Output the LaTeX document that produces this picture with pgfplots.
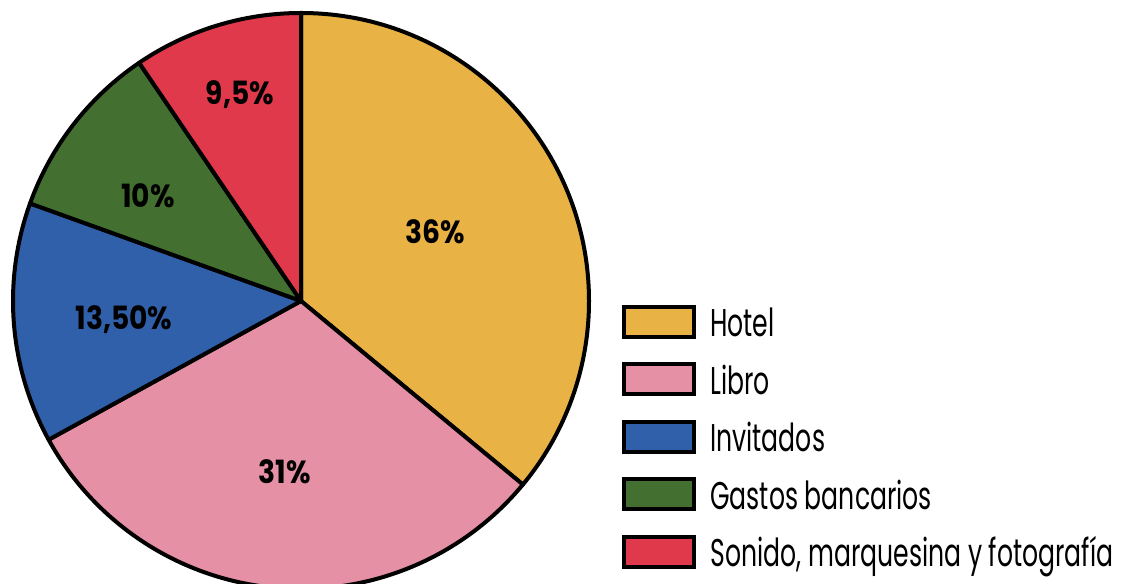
\documentclass[border=0pt]{standalone}
\usepackage{pgfplots}
\pgfplotsset{compat=1.18}
\usepackage{fontspec}
\setmainfont{Poppins}
\newfontfamily\legfont[FakeStretch=0.65]{Poppins}
\newfontfamily\labfont[FakeStretch=0.88]{Poppins}
\definecolor{hotel}{HTML}{E9B244}
\definecolor{libro}{HTML}{E590A5}
\definecolor{invit}{HTML}{3160AB}
\definecolor{gastos}{HTML}{437030}
\definecolor{sonido}{HTML}{E0394B}
\begin{document}
\begin{tikzpicture}
\begin{axis}[hide axis, scale only axis, width=846.75pt, height=438pt,
  xmin=0, xmax=1129, ymin=0, ymax=584, clip=true]
\pgfplotsextra{
  \xdef\startangle{90}
  \foreach \v/\c in {36/hotel, 31/libro, 13.5/invit, 10/gastos, 9.5/sonido}{
    \pgfmathsetmacro\endangle{\startangle - 3.6*\v}
    \filldraw[fill=\c, draw=black, line width=3pt, line join=round]
      (axis cs:301,283) -- ++(\startangle:216pt)
      arc[start angle=\startangle, end angle=\endangle, radius=216pt] -- cycle;
    \xdef\startangle{\endangle}
  }
}
\tikzset{lab/.style={font=\labfont\bfseries\fontsize{24}{24}\selectfont}}
\node[lab] at (axis cs:435,352) {36\%};
\node[lab] at (axis cs:285,112) {31\%};
\node[lab] at (axis cs:124,264) {13,50\%};
\node[lab] at (axis cs:148,388) {10\%};
\node[lab] at (axis cs:240,489) {9,5\%};
\pgfplotsextra{
  \foreach \yc/\c/\t in {262/hotel/Hotel, 204.5/libro/Libro, 147/invit/Invitados, 89.5/gastos/Gastos bancarios, 32/sonido/{Sonido, marquesina y fotografía}}{
    \filldraw[fill=\c, draw=black, line width=3pt] (axis cs:624,\yc-15) rectangle (axis cs:694,\yc+15);
    \node[anchor=base west, inner sep=0pt, font=\legfont\fontsize{29}{29}\selectfont] at (axis cs:710,\yc-15) {\t};
  }
}
\end{axis}
\pgfresetboundingbox
\useasboundingbox (current axis.south west) rectangle (current axis.north east);
\end{tikzpicture}
\end{document}
